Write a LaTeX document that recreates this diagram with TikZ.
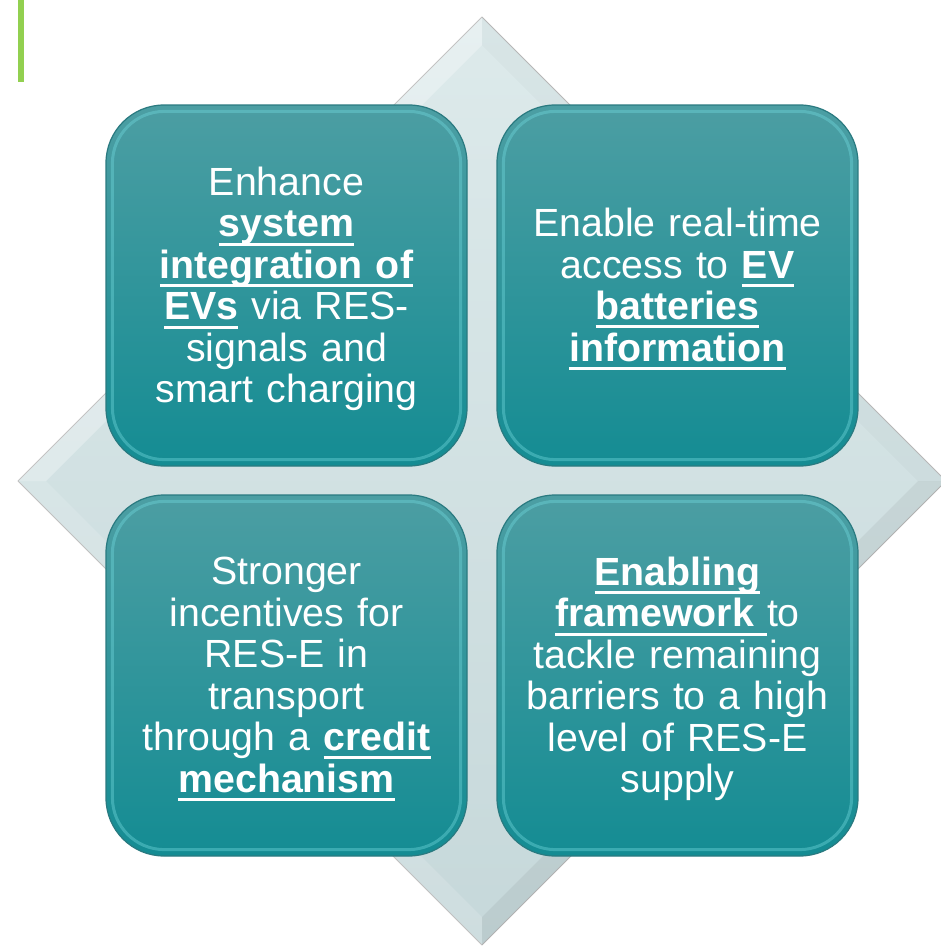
\documentclass[tikz,border=0pt]{standalone}
\usepackage{fontspec}
\setmainfont{Liberation Sans}
\newsavebox{\ubox}
\newcommand{\bu}[1]{\leavevmode\sbox\ubox{\textbf{#1}}\rlap{\rule[-8.6pt]{\wd\ubox}{2.8pt}}\usebox\ubox}

\definecolor{tealtop}{HTML}{4C9EA3}
\definecolor{tealbot}{HTML}{148C93}
\definecolor{tealedge}{HTML}{2A7A80}
\definecolor{tealrim}{HTML}{6FD6DB}
\definecolor{rautop}{HTML}{DDEAEB}
\definecolor{raubot}{HTML}{C6D8DA}
\definecolor{zelena}{HTML}{92D050}

\tikzset{
  kachel/.style={rounded corners=58, top color=tealtop, bottom color=tealbot,
    draw=tealedge, line width=1.2, minimum width=361, minimum height=361},
  napis/.style={text=white, align=center, text width=330,
    font=\fontsize{39.3}{41.5}\selectfont},
  obruba/.style={rounded corners=52, draw=tealrim, line width=3, opacity=0.42}
}

\begin{document}
\begin{tikzpicture}[x=1pt, y=-1pt, line join=round]
  \useasboundingbox (0,0) rectangle (941,946);
  \clip (0,0) rectangle (941,946);

  % zelena ciara
  \fill[zelena] (18,0) rectangle (24,82);

  % kosostvorec
  \draw[top color=rautop, bottom color=raubot, draw=gray!55, line width=0.8]
    (482,17) -- (946,481) -- (482,945) -- (18,481) -- cycle;
  \fill[white, opacity=0.3] (482,17) -- (18,481) -- (46,481) -- (482,45) -- cycle;
  \fill[black, opacity=0.02] (482,17) -- (946,481) -- (918,481) -- (482,45) -- cycle;
  \fill[white, opacity=0.15] (18,481) -- (482,945) -- (482,917) -- (46,481) -- cycle;
  \fill[black, opacity=0.05] (946,481) -- (482,945) -- (482,917) -- (918,481) -- cycle;

  % kachle
  \node[kachel] (k1) at (286.5,285.5) {};
  \node[kachel] (k2) at (677.5,285.5) {};
  \node[kachel] (k3) at (286.5,675.5) {};
  \node[kachel] (k4) at (677.5,675.5) {};

  % obruby
  \foreach \k in {k1,k2,k3,k4}{
    \draw[obruba] ([xshift=7pt,yshift=-7pt]\k.north west) rectangle ([xshift=-7pt,yshift=7pt]\k.south east);
  }

  % texty
  \node[napis] (t1) at ([yshift=-3.5pt]k1.center) {Enhance\\ \bu{system}\\ \bu{integration of}\\
    \bu{EVs} via RES-\\ signals and\\ smart charging};
  \node[napis] (t2) at ([yshift=-3.5pt]k2.center) {Enable real-time\\ access to \bu{EV}\\
    \bu{batteries}\\ \bu{information}};
  \node[napis] (t3) at ([yshift=-3.5pt]k3.center) {Stronger\\ incentives for\\ RES-E in\\ transport\\
    through a \bu{credit}\\ \bu{mechanism}};
  \node[napis] (t4) at ([yshift=-3.5pt]k4.center) {\bu{Enabling}\\ \bu{framework\ }to\\
    tackle remaining\\ barriers to a high\\ level of RES-E\\ supply};
\end{tikzpicture}
\end{document}
